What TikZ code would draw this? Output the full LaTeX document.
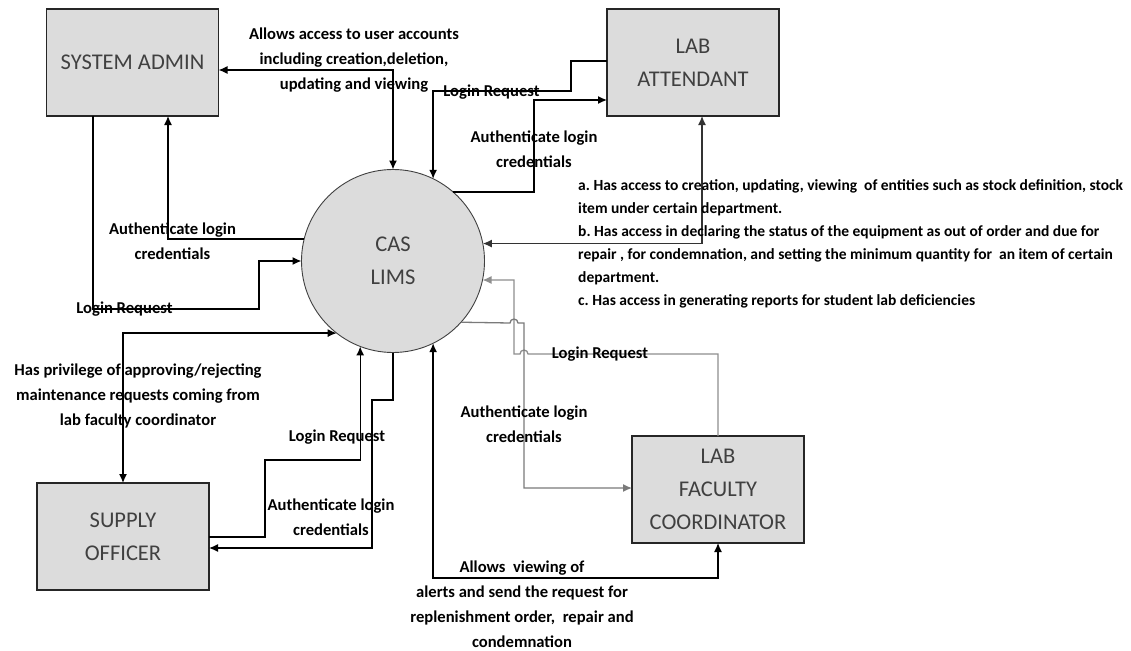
\documentclass[tikz,border=0pt]{standalone}
\usepackage{fontspec}
\setmainfont{Carlito}
\usetikzlibrary{arrows.meta}

\definecolor{boxgray}{HTML}{DCDCDC}
\definecolor{entitytext}{HTML}{404040}
\definecolor{flowgray}{HTML}{7A7A7A}
\definecolor{flowlight}{HTML}{8E8E8E}

\begin{document}
\frenchspacing
\begin{tikzpicture}[x=1pt,y=-1pt,
  entity/.style={draw=black!85, line width=1.4pt, fill=boxgray,
    minimum width=172pt, minimum height=107pt, inner sep=0pt, outer sep=0pt,
    align=center, text=entitytext, font=\fontsize{22.5}{33}\selectfont},
  process/.style={circle, draw=black!75, line width=0.9pt, fill=boxgray,
    minimum size=183pt, inner sep=0pt, outer sep=0pt,
    align=center, text=entitytext, font=\fontsize{22.5}{33}\selectfont},
  flow/.style={line width=1.3pt, -{Latex[length=9pt,width=8pt]}},
  bothflow/.style={line width=1.3pt, {Latex[length=9pt,width=8pt]}-{Latex[length=9pt,width=8pt]}},
  lbl/.style={align=center, inner sep=0pt, font=\bfseries\fontsize{16.6}{25}\selectfont},
]
\useasboundingbox (0,0) rectangle (1131,650);

% external entities and the central process
\node[entity] (sa)  at (132.5,62.5) {SYSTEM ADMIN};
\node[entity] (la)  at (693,62.5)   {LAB\\ATTENDANT};
\node[entity] (so)  at (123,536.5)  {SUPPLY\\OFFICER};
\node[entity] (lfc) at (718,489.5)  {LAB\\FACULTY\\COORDINATOR};
\node[process] (cas) at (393,261)   {CAS\\LIMS};

% system admin
\draw[bothflow] (sa.east |- 0,70) -- (393,70) -- (cas.north);
\draw[flow] (cas.166.7) -| (sa.south -| 168,0);
\draw[flow] (sa.south -| 93,0) |- (259,309) |- (cas.west);

% lab attendant
\draw[flow] (la.west |- 0,61) -| (571,91) -| (cas.64.1);
\draw[flow] (cas.49.9) -| (534,100) -- (la.west |- 0,100);
\draw[bothflow, draw=black!80] (la.south -| 702,0) |- (cas.11.3);

% supply officer
\draw[bothflow] (so.north) |- (cas.232.9);
\draw[flow] (so.east |- 0,537) -| (265,460) -| (cas.249.5);
\draw[flow] (cas.south) |- (372,400) |- (so.east |- 0,548);

% lab faculty coordinator
\draw[bothflow] (cas.-64.1) |- (718,578) -- (lfc.south);
\draw[flow, draw=flowlight] (lfc.north) -- (718,354) -- (528,354)
  arc[start angle=0, end angle=180, radius=4pt] -- (514,354) -- (514,280) -- (cas.-12.0);
\draw[flow, draw=flowgray] (cas.-42.7) -- (510,323)
  arc[start angle=180, end angle=0, radius=4pt] -- (524,323) -- (524,488) -- (lfc.west |- 0,488);

% flow labels
\node[lbl] (l1) at (354,60) {Allows access to user accounts\\including creation,deletion,\\updating and viewing};
\node[lbl] (l2) at (491.5,92) {Login Request};
\node[lbl] (l3) at (534,149) {Authenticate login\\credentials};
\node[lbl] (l4) at (172.5,241) {Authenticate login\\credentials};
\node[lbl] (l5) at (124.5,309) {Login Request};
\node[lbl] (l6) at (138,396) {Has privilege of approving/rejecting\\maintenance requests coming from\\lab faculty coordinator};
\node[lbl] (l7) at (337,437) {Login Request};
\node[lbl] (l8) at (331,517) {Authenticate login\\credentials};
\node[lbl] (l9) at (524,424.5) {Authenticate login\\credentials};
\node[lbl] (l10) at (600,354) {Login Request};
\node[lbl] (l11) at (522,604) {Allows\ \ viewing of\\alerts and send the request for\\replenishment order,\ \ repair and\\condemnation};

\node[anchor=west, align=left, inner sep=0pt, font=\bfseries\fontsize{15.5}{23}\selectfont] (access) at (578,243.5)
  {a. Has access to creation, updating, viewing\ \ of entities such as stock definition, stock\\
   item under certain department.\\
   b. Has access in declaring the status of the equipment as out of order and due for\\
   repair , for condemnation, and setting the minimum quantity for\ \ an item of certain\\
   department.\\
   c. Has access in generating reports for student lab deficiencies};
\end{tikzpicture}
\end{document}
